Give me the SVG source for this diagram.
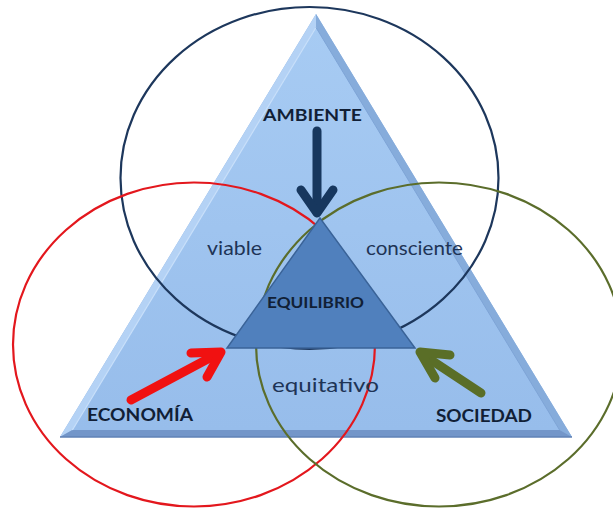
<svg xmlns="http://www.w3.org/2000/svg" width="613" height="509" viewBox="0 0 613 509">
  <defs>
    <linearGradient id="faceGrad" x1="0" y1="0" x2="0" y2="1">
      <stop offset="0" stop-color="#a7cbf3"/>
      <stop offset="1" stop-color="#97bdeb"/>
    </linearGradient>
    <style>
      .ring { fill: none; stroke-width: 2.2; }
      .arrow { fill: none; stroke-linecap: round; stroke-linejoin: round; stroke-width: 9; }
      .bold { font-family: Lato, "Liberation Sans", sans-serif; font-weight: bold; fill: #111f36; text-anchor: middle; }
      .reg { font-family: Lato, "Liberation Sans", sans-serif; fill: #1e3456; text-anchor: middle; }
    </style>
  </defs>
  <rect width="613" height="509" fill="#ffffff"/>

  <g id="main-triangle">
    <polygon points="316,14 60,437 572,437" fill="#8cb2e1"/>
    <polygon points="316,14 60,437 72.4,430 316,27.5" fill="#b4d2f5"/>
    <polygon points="316,14 572,437 559.6,430 316,27.5" fill="#86acdb"/>
    <polygon points="60,437 572,437 559.6,430 72.4,430" fill="#7396c9"/>
    <polygon points="316,27.5 72.4,430 559.6,430" fill="url(#faceGrad)"/>
    <polyline points="72.4,430 316,27.5" fill="none" stroke="#c9e0fa" stroke-width="1.2"/>
    <polyline points="316,27.5 559.6,430" fill="none" stroke="#7ea4d6" stroke-width="1"/>
    <line x1="60" y1="437" x2="572" y2="437" stroke="#5f82b6" stroke-width="1.5"/>
  </g>

  <g id="circles">
    <ellipse id="ambiente-circle" class="ring" cx="309.5" cy="178" rx="189" ry="171" stroke="#1d375c"/>
    <ellipse id="economia-circle" class="ring" cx="194" cy="344.5" rx="181" ry="162" stroke="#e3171d"/>
    <ellipse id="sociedad-circle" class="ring" cx="439" cy="344.5" rx="183" ry="162" stroke="#5b6d2b"/>
  </g>

  <g id="equilibrio">
    <polygon points="320,218 227,348 415,348" fill="#5080bd" stroke="#3a6398" stroke-width="1.5" stroke-linejoin="miter"/>
    <text class="bold" x="315.5" y="308" font-size="15.5" textLength="97" lengthAdjust="spacingAndGlyphs">EQUILIBRIO</text>
  </g>

  <g id="connectors">
    <g id="arrow-ambiente" class="arrow" stroke="#17375e">
      <line x1="317" y1="131" x2="317" y2="212"/>
      <polyline points="301,190 317,213 333,190"/>
    </g>
    <g id="arrow-economia" class="arrow" stroke="#f11111">
      <line x1="131" y1="400" x2="219" y2="353"/>
      <polyline points="191,353 221,352 207,377"/>
    </g>
    <g id="arrow-sociedad" class="arrow" stroke="#5a6e27">
      <line x1="481" y1="393" x2="422" y2="354"/>
      <polyline points="450,355 420,352 435,378"/>
    </g>
  </g>

  <g id="ambiente">
    <text class="bold" x="312.5" y="121" font-size="17.5" textLength="99" lengthAdjust="spacingAndGlyphs">AMBIENTE</text>
  </g>
  <g id="economia">
    <text class="bold" x="140" y="421" font-size="16.5" textLength="106" lengthAdjust="spacingAndGlyphs">ECONOMÍA</text>
  </g>
  <g id="sociedad">
    <text class="bold" x="484" y="422" font-size="16.5" textLength="96" lengthAdjust="spacingAndGlyphs">SOCIEDAD</text>
  </g>
  <g id="viable">
    <text class="reg" x="234.5" y="255" font-size="19" textLength="55" lengthAdjust="spacingAndGlyphs">viable</text>
  </g>
  <g id="consciente">
    <text class="reg" x="414.5" y="255" font-size="19" textLength="97" lengthAdjust="spacingAndGlyphs">consciente</text>
  </g>
  <g id="equitativo">
    <text class="reg" x="325.5" y="392" font-size="19" textLength="107" lengthAdjust="spacingAndGlyphs">equitativo</text>
  </g>
</svg>
